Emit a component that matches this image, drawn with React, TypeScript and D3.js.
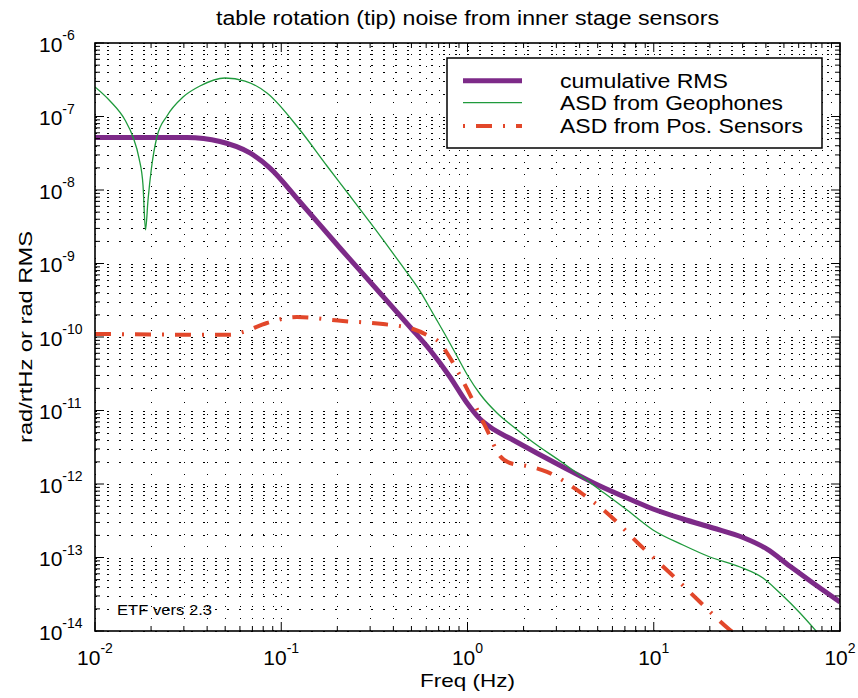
import React from "react";
import * as d3 from "d3";

const titleText = "table rotation (tip) noise from inner stage sensors";
const xLabelText = "Freq (Hz)";
const yLabelText = "rad/rtHz or rad RMS";
const noteText = "ETF vers 2.3";
const seriesNames = ["cumulative RMS", "ASD from Geophones", "ASD from Pos. Sensors"];

const xExponents = [-2, -1, 0, 1, 2];
const yExponents = [-14, -13, -12, -11, -10, -9, -8, -7, -6];

const rmsFreq = [0.01, 0.0312, 0.0469, 0.0679, 0.087, 0.1261, 0.2067, 0.339, 0.4913, 0.6291, 0.8054, 0.9938, 1.167, 1.321, 1.755, 3.257, 5.145, 7.185, 9.91, 14.35, 20.8, 30.15, 40.6, 53.9, 71.6, 100];
const rmsVal = [5.18e-8, 5.18e-8, 4.57e-8, 3.19e-8, 1.99e-8, 6.87e-9, 1.625e-9, 3.97e-10, 1.368e-10, 6.65e-11, 2.86e-11, 1.265e-11, 7.66e-12, 5.96e-12, 3.97e-12, 1.7e-12, 9.39e-13, 6.45e-13, 4.57e-13, 3.34e-13, 2.52e-13, 1.87e-13, 1.3e-13, 7.6e-14, 4.5e-14, 2.48e-14];

const geoFreq = [0.01, 0.01204, 0.01449, 0.016, 0.01723, 0.0181, 0.01867, 0.01926, 0.0201, 0.0215, 0.02435, 0.0297, 0.0366, 0.0499, 0.0639, 0.0838, 0.1261, 0.1761, 0.234, 0.3187, 0.4341, 0.5559, 0.6693, 0.7762, 0.8892, 1.006, 1.167, 1.44, 1.799, 2.166, 3.257, 5.145, 7.185, 9.91, 14.35, 20.04, 29.05, 38.6, 47.6, 61.0, 75.2];
const geoVal = [2.52e-7, 1.625e-7, 8.96e-8, 5.26e-8, 2.72e-8, 1.17e-8, 2.86e-9, 7.31e-9, 1.99e-8, 5.26e-8, 1.016e-7, 1.84e-7, 2.6e-7, 3.34e-7, 3.04e-7, 2.09e-7, 6.55e-8, 2.12e-8, 8.29e-9, 2.95e-9, 1.016e-9, 4.22e-10, 1.87e-10, 9.69e-11, 5.18e-11, 2.95e-11, 1.677e-11, 9.25e-12, 5.78e-12, 3.97e-12, 1.93e-12, 8.29e-13, 4.43e-13, 2.37e-13, 1.48e-13, 1.016e-13, 7.43e-14, 5.26e-14, 3.29e-14, 1.76e-14, 9.7e-15];

const posFreq = [0.01, 0.0531, 0.0623, 0.0838, 0.1215, 0.2145, 0.3518, 0.5099, 0.6062, 0.7118, 0.7762, 0.9696, 1.273, 1.494, 1.691, 2.087, 2.673, 4.018, 5.61, 8.756, 12.23, 17.72, 25.67, 32.9];
const posVal = [1.1e-10, 1.07e-10, 1.17e-10, 1.55e-10, 1.87e-10, 1.65e-10, 1.5e-10, 1.285e-10, 1.065e-10, 8.29e-11, 6.06e-11, 2.22e-11, 5.43e-12, 2.4e-12, 1.93e-12, 1.76e-12, 1.46e-12, 7.78e-13, 4.03e-13, 1.35e-13, 6.15e-14, 2.48e-14, 1.03e-14, 6.5e-15];

const W = 858;
const H = 698;
const M = { left: 95, right: 840, top: 43, bottom: 631 };
const FONT = "'Liberation Sans', Arial, Helvetica, sans-serif";
const PURPLE = "#7d2a88";
const GREEN = "#1f9a3c";
const RED = "#e2472a";

function minorTicks(exps: number[]) {
  const out: { v: number; major: boolean }[] = [];
  for (let i = 0; i < exps.length; i++) {
    const base = Math.pow(10, exps[i]);
    out.push({ v: base, major: true });
    if (i < exps.length - 1) {
      for (let k = 2; k <= 9; k++) out.push({ v: k * base, major: false });
    }
  }
  return out;
}

export default function App() {
  const x = d3.scaleLog().domain([1e-2, 1e2]).range([M.left, M.right]);
  const y = d3.scaleLog().domain([1e-14, 1e-6]).range([M.bottom, M.top]);

  const mk = (fs: number[], vs: number[]) =>
    d3
      .line<number>()
      .x((_, i) => x(fs[i]))
      .y((v) => y(v))
      .curve(d3.curveMonotoneX)(vs) as string;

  const xt = minorTicks(xExponents);
  const yt = minorTicks(yExponents);
  const grid = "1.5,10.5";

  const legX = 447;
  const legY = 58;
  const legW = 375;
  const legH = 90;
  const legRows = [80.7, 102.7, 126];
  const legColors = [PURPLE, GREEN, RED];
  const legWidths = [5, 1.3, 4];
  const legDash = [null, null, "16,11,2,11"];
  const legTextLen = [168, 223, 243];

  return (
    <svg
      width={W}
      height={H}
      style={{ position: "absolute", left: 0, top: 0, background: "#fff" }}
      fontFamily={FONT}
    >
      <rect x={0} y={0} width={W} height={H} fill="#fff" />
      <defs>
        <clipPath id="plotclip">
          <rect x={M.left} y={M.top} width={M.right - M.left} height={M.bottom - M.top} />
        </clipPath>
      </defs>

      {/* grid */}
      <g stroke="#000" strokeWidth={1} strokeDasharray={grid} shapeRendering="crispEdges">
        {xt.map((t, i) => (
          <line key={"gx" + i} x1={Math.round(x(t.v)) + 0.5} x2={Math.round(x(t.v)) + 0.5} y1={M.bottom} y2={M.top} />
        ))}
        {yt.map((t, i) => (
          <line key={"gy" + i} x1={M.left} x2={M.right} y1={Math.round(y(t.v)) + 0.5} y2={Math.round(y(t.v)) + 0.5} />
        ))}
      </g>

      {/* series */}
      <g clipPath="url(#plotclip)" fill="none">
        <path d={mk(rmsFreq, rmsVal)} stroke={PURPLE} strokeWidth={5} strokeLinejoin="round" />
        <path d={mk(geoFreq, geoVal)} stroke={GREEN} strokeWidth={1.3} />
        <path d={mk(posFreq, posVal)} stroke={RED} strokeWidth={4} strokeDasharray="16,11,2,11" />
      </g>

      {/* frame */}
      <rect
        x={M.left}
        y={M.top}
        width={M.right - M.left}
        height={M.bottom - M.top}
        fill="none"
        stroke="#000"
        strokeWidth={1.6}
      />
      {/* ticks */}
      <g stroke="#000" strokeWidth={1}>
        {xt.map((t, i) => {
          const L = t.major ? 9 : 5;
          const px = x(t.v);
          return (
            <g key={"tx" + i}>
              <line x1={px} x2={px} y1={M.bottom} y2={M.bottom - L} />
              <line x1={px} x2={px} y1={M.top} y2={M.top + L} />
            </g>
          );
        })}
        {yt.map((t, i) => {
          const L = t.major ? 9 : 5;
          const py = y(t.v);
          return (
            <g key={"ty" + i}>
              <line x1={M.left} x2={M.left + L} y1={py} y2={py} />
              <line x1={M.right} x2={M.right - L} y1={py} y2={py} />
            </g>
          );
        })}
      </g>

      {/* tick labels */}
      <g fill="#000">
        {xExponents.map((e) => (
          <text key={"xl" + e} x={x(Math.pow(10, e))} y={665} textAnchor="middle">
            <tspan fontSize={21}>10</tspan>
            <tspan fontSize={14} dy={-12}>{String(e)}</tspan>
          </text>
        ))}
        {yExponents.map((e) => (
          <text key={"yl" + e} x={39} y={y(Math.pow(10, e)) + 8.5} textAnchor="start">
            <tspan fontSize={21}>10</tspan>
            <tspan fontSize={14} dy={-11.5}>{String(e)}</tspan>
          </text>
        ))}
      </g>

      {/* legend */}
      <rect x={legX} y={legY} width={legW} height={legH} fill="#fff" stroke="#000" strokeWidth={1.5} />
      {seriesNames.map((n, i) => (
        <g key={"lg" + i}>
          <line
            x1={463}
            x2={522}
            y1={legRows[i]}
            y2={legRows[i]}
            stroke={legColors[i]}
            strokeWidth={legWidths[i]}
            strokeDasharray={legDash[i] || undefined}
            strokeDashoffset={legDash[i] ? 27 : undefined}
          />
          <text
            x={560}
            y={legRows[i] + 6.8}
            fontSize={20}
            textLength={legTextLen[i]}
            lengthAdjust="spacingAndGlyphs"
          >
            {n}
          </text>
        </g>
      ))}

      {/* note */}
      <text x={117} y={615} fontSize={14} textLength={95} lengthAdjust="spacingAndGlyphs">
        {noteText}
      </text>

      {/* title & axis labels */}
      <text x={(M.left + M.right) / 2} y={25} fontSize={20} textAnchor="middle" textLength={503} lengthAdjust="spacingAndGlyphs">
        {titleText}
      </text>
      <text x={(M.left + M.right) / 2} y={687} fontSize={19} textAnchor="middle" textLength={95} lengthAdjust="spacingAndGlyphs">
        {xLabelText}
      </text>
      <text
        transform={`translate(32, ${(M.top + M.bottom) / 2}) rotate(-90)`}
        fontSize={19}
        textAnchor="middle"
        textLength={212}
        lengthAdjust="spacingAndGlyphs"
      >
        {yLabelText}
      </text>
    </svg>
  );
}
